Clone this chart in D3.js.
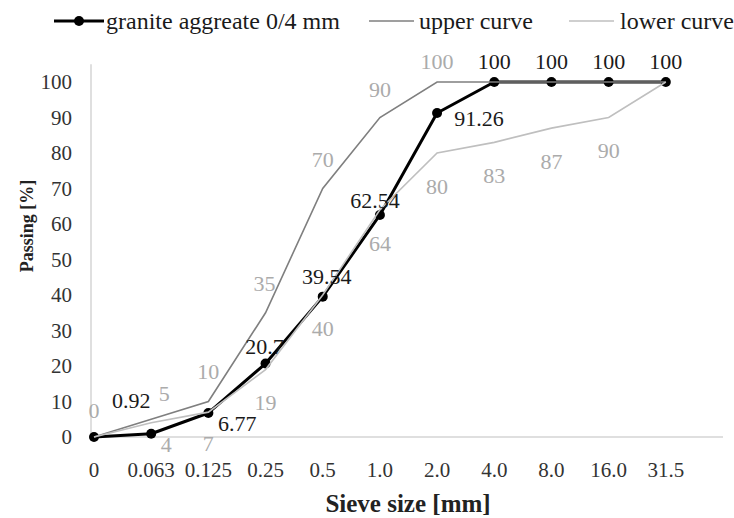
<!DOCTYPE html>
<html>
<head>
<meta charset="utf-8">
<script src="https://cdn.jsdelivr.net/npm/d3@7"></script>
<style>
  html, body { margin: 0; padding: 0; background: #fff; }
  svg { display: block; font-family: "Liberation Serif", "DejaVu Serif", serif; }
</style>
</head>
<body>
<svg id="chart" width="734" height="518"></svg>
<script>
// Sieve sizes (mm) shown as evenly spaced categories
const sieveSizes = ["0", "0.063", "0.125", "0.25", "0.5", "1.0", "2.0", "4.0", "8.0", "16.0", "31.5"];
const yTicks = [0, 10, 20, 30, 40, 50, 60, 70, 80, 90, 100];

// Passing [%] for each sieve
const granite = [0, 0.92, 6.77, 20.7, 39.54, 62.54, 91.26, 100, 100, 100, 100];
const upperCurve = [0, 5, 10, 35, 70, 90, 100, 100, 100, 100, 100];
const lowerCurve = [0, 4, 7, 19, 40, 64, 80, 83, 87, 90, 100];

// Label placement relative to each point (null = no label)
const graniteLabelOffsets = [null, [-20, -33], [29, 10], [-1, -17], [4, -20], [-5, -15], [42, 5], [0, -21], [0, -21], [0, -21], [0, -21]];
const upperLabelOffsets = [[0, -27], [13, -26], [0, -30], [-1, -29], [0, -29], [0, -28], [0, -21], null, null, null, null];
const lowerLabelOffsets = [null, [15, 21], [0, 31], [0, 33], [0, 33], [0, 33], [0, 33], [0, 33], [0, 33], [0, 33], null];

const colors = { granite: "#000000", upper: "#7f7f7f", lower: "#bfbfbf", grayLabel: "#ababab", darkLabel: "#1a1a1a", axis: "#d4d4d4", tick: "#333333" };

const svg = d3.select("#chart");

const x = d3.scaleLinear().domain([0, sieveSizes.length]).range([94, 723]);
const y = d3.scaleLinear().domain([0, 100]).range([437, 82]);

// Axes
svg.append("line")
  .attr("x1", x(0) - 3).attr("x2", x(0) - 3)
  .attr("y1", y(105)).attr("y2", y(0))
  .attr("stroke", colors.axis).attr("stroke-width", 1.5);

svg.append("line")
  .attr("x1", x(0)).attr("x2", x(sieveSizes.length))
  .attr("y1", y(0)).attr("y2", y(0))
  .attr("stroke", colors.axis).attr("stroke-width", 1.5);

svg.append("g").selectAll("text").data(yTicks).join("text")
  .attr("x", 72).attr("y", d => y(d)).attr("dy", "0.35em")
  .attr("text-anchor", "end").attr("font-size", 21).attr("fill", colors.tick)
  .text(d => d);

svg.append("g").selectAll("text").data(sieveSizes).join("text")
  .attr("x", (d, i) => x(i)).attr("y", 470).attr("dy", "0.35em")
  .attr("text-anchor", "middle").attr("font-size", 21).attr("fill", colors.tick)
  .text(d => d);

svg.append("text")
  .attr("x", 408).attr("y", 503).attr("dy", "0.35em")
  .attr("text-anchor", "middle").attr("font-size", 25).attr("font-weight", "bold").attr("fill", "#222")
  .text("Sieve size [mm]");

svg.append("text")
  .attr("transform", "translate(27,226) rotate(-90)").attr("dy", "0.35em")
  .attr("text-anchor", "middle").attr("font-size", 18).attr("font-weight", "bold").attr("fill", "#222")
  .text("Passing [%]");

const line = d3.line().x((d, i) => x(i)).y(d => y(d));

// Series (later series drawn on top)
svg.append("path").datum(granite)
  .attr("d", line).attr("fill", "none")
  .attr("stroke", colors.granite).attr("stroke-width", 3).attr("stroke-linejoin", "round");
svg.append("g").selectAll("circle").data(granite).join("circle")
  .attr("cx", (d, i) => x(i)).attr("cy", d => y(d)).attr("r", 5)
  .attr("fill", colors.granite);

svg.append("path").datum(upperCurve)
  .attr("d", line).attr("fill", "none")
  .attr("stroke", colors.upper).attr("stroke-width", 1.6);

svg.append("path").datum(lowerCurve)
  .attr("d", line).attr("fill", "none")
  .attr("stroke", colors.lower).attr("stroke-width", 1.6);

// Data labels
function addLabels(values, offsets, color) {
  const items = values.map((v, i) => ({ v, i, off: offsets[i] })).filter(d => d.off);
  svg.append("g").selectAll("text").data(items).join("text")
    .attr("x", d => x(d.i) + d.off[0]).attr("y", d => y(d.v) + d.off[1]).attr("dy", "0.35em")
    .attr("text-anchor", "middle").attr("font-size", 22).attr("fill", color)
    .text(d => d.v);
}
addLabels(upperCurve, upperLabelOffsets, colors.grayLabel);
addLabels(lowerCurve, lowerLabelOffsets, colors.grayLabel);
addLabels(granite, graniteLabelOffsets, colors.darkLabel);

// Legend
const legend = svg.append("g");
const legendItems = [
  { name: "granite aggreate 0/4 mm", color: colors.granite, width: 3, marker: true, x0: 54, x1: 104, tx: 106 },
  { name: "upper curve", color: colors.upper, width: 1.6, marker: false, x0: 369, x1: 414, tx: 419 },
  { name: "lower curve", color: colors.lower, width: 1.6, marker: false, x0: 569, x1: 614, tx: 620 }
];
legendItems.forEach(it => {
  legend.append("line").attr("x1", it.x0).attr("x2", it.x1).attr("y1", 21).attr("y2", 21)
    .attr("stroke", it.color).attr("stroke-width", it.width);
  if (it.marker) legend.append("circle").attr("cx", (it.x0 + it.x1) / 2).attr("cy", 21).attr("r", 5).attr("fill", it.color);
  legend.append("text").attr("x", it.tx).attr("y", 21).attr("dy", "0.35em")
    .attr("font-size", 24).attr("fill", colors.darkLabel).text(it.name);
});
</script>
</body>
</html>
